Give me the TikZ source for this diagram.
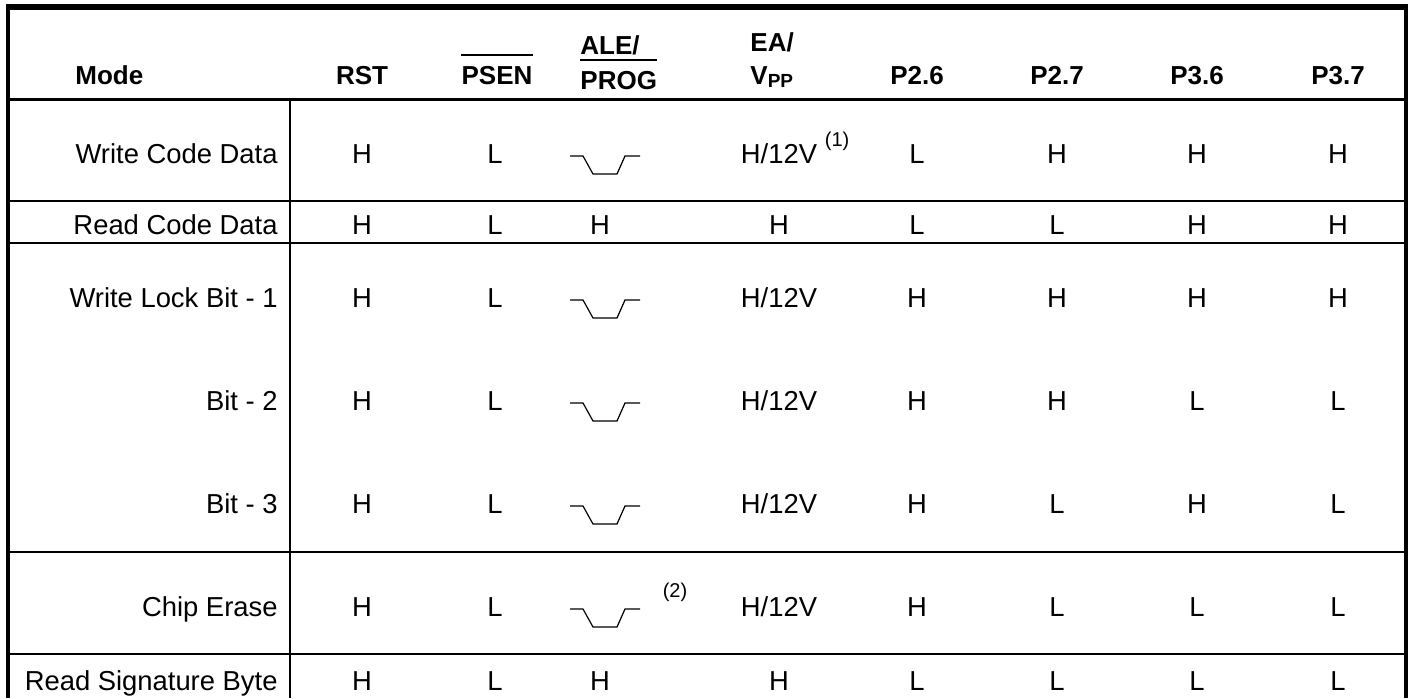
\documentclass[tikz,border=0pt]{standalone}
\usepackage{fontspec}
\setmainfont{Liberation Sans}
\usepackage{tikz}
\usetikzlibrary{positioning}

\newcommand{\hvpp}{H/12V}
\newcommand{\progpulse}[2]{\draw[pulse] (#1-30,#2-7) -- ++(13,0) -- ++(10,18) -- ++(24,0) -- ++(8,-18) -- ++(15,0);}

\tikzset{
  cell/.style={font=\fontsize{13.7}{16}\selectfont, inner sep=0pt, anchor=base},
  head/.style={font=\fontsize{13}{15}\selectfont\bfseries, inner sep=0pt, anchor=base},
  modelabel/.style={cell, anchor=base east},
  note/.style={font=\fontsize{10}{12}\selectfont, inner sep=0pt},
  rule/.style={line width=0.65pt},
  pulse/.style={line width=0.6pt},
  bar/.style={line width=1pt}
}

\begin{document}
\begin{tikzpicture}[x=0.5pt, y=-0.5pt]
      \useasboundingbox (0,0) rectangle (1413,698);

      % Header
      \node[head, anchor=base west] (mode) at (75,84) {Mode};
      \node[head] (rst) at (362,84) {RST};
      \node[head] (psen) at (497,84) {PSEN};
      \node[head, anchor=base west] (ale) at (580,54) {ALE/};
      \node[head, anchor=base west] (prog) at (580,89) {PROG};
      \node[head, anchor=base west] (ea) at (750,51) {EA/};
      \node[head, anchor=base west] (vpp) at (750,84) {V\raisebox{-1.5pt}{\fontsize{9.5}{10}\selectfont PP}};
      \node[head] (p26) at (917,84) {P2.6};
      \node[head] (p27) at (1057,84) {P2.7};
      \node[head] (p36) at (1197,84) {P3.6};
      \node[head] (p37) at (1338,84) {P3.7};
      \draw[bar] ([yshift=5pt]psen.north west) -- ([yshift=5pt]psen.north east);
      \draw[bar] ([yshift=5pt]prog.north west) -- ([yshift=5pt]prog.north east);

      % Write Code Data
      \node[modelabel] (wcd) at (278,163) {Write Code Data};
      \foreach \x/\c/\v in {362/rst/H,495/psen/L,779/ea/\hvpp,917/p26/L,1057/p27/H,1197/p36/H,1338/p37/H}
        \node[cell] (wcd-\c) at (\x,163) {\v};
      \progpulse{600}{163}
      \node[note, anchor=west] (fn1) at ([xshift=3.5pt,yshift=6pt]wcd-ea.east) {(1)};

      % Read Code Data
      \node[modelabel] (rcd) at (278,234) {Read Code Data};
      \foreach \x/\c/\v in {362/rst/H,495/psen/L,600/ale/H,779/ea/H,917/p26/L,1057/p27/L,1197/p36/H,1338/p37/H}
        \node[cell] (rcd-\c) at (\x,234) {\v};

      % Write Lock Bits
      \node[modelabel] (wlb1) at (278,307) {Write Lock Bit - 1};
      \foreach \x/\c/\v in {362/rst/H,495/psen/L,779/ea/\hvpp,917/p26/H,1057/p27/H,1197/p36/H,1338/p37/H}
        \node[cell] (wlb1-\c) at (\x,307) {\v};
      \progpulse{600}{307}

      \node[modelabel] (wlb2) at (278,410) {Bit - 2};
      \foreach \x/\c/\v in {362/rst/H,495/psen/L,779/ea/\hvpp,917/p26/H,1057/p27/H,1197/p36/L,1338/p37/L}
        \node[cell] (wlb2-\c) at (\x,410) {\v};
      \progpulse{600}{410}

      \node[modelabel] (wlb3) at (278,513) {Bit - 3};
      \foreach \x/\c/\v in {362/rst/H,495/psen/L,779/ea/\hvpp,917/p26/H,1057/p27/L,1197/p36/H,1338/p37/L}
        \node[cell] (wlb3-\c) at (\x,513) {\v};
      \progpulse{600}{513}

      % Chip Erase
      \node[modelabel] (ce) at (278,616) {Chip Erase};
      \foreach \x/\c/\v in {362/rst/H,495/psen/L,779/ea/\hvpp,917/p26/H,1057/p27/L,1197/p36/L,1338/p37/L}
        \node[cell] (ce-\c) at (\x,616) {\v};
      \progpulse{600}{616}
      \node[note] (fn2) at (675,592) {(2)};

      % Read Signature Byte
      \node[modelabel] (rsb) at (278,690) {Read Signature Byte};
      \foreach \x/\c/\v in {362/rst/H,495/psen/L,600/ale/H,779/ea/H,917/p26/L,1057/p27/L,1197/p36/L,1338/p37/L}
        \node[cell] (rsb-\c) at (\x,690) {\v};

      % Rules
      \draw[line width=1.5pt] (8,99) -- (1406,99);
      \foreach \y in {201,243,552,654}
        \draw[rule] (8,\y) -- (1406,\y);
      \draw[rule] (290,99) -- (290,698);

      % Frame
      \draw[line width=3pt] (6,7) -- (1408,7);
      \draw[line width=2pt] (8,5) -- (8,698);
      \draw[line width=2.2pt] (1406,5) -- (1406,698);
    \end{tikzpicture}
\end{document}
